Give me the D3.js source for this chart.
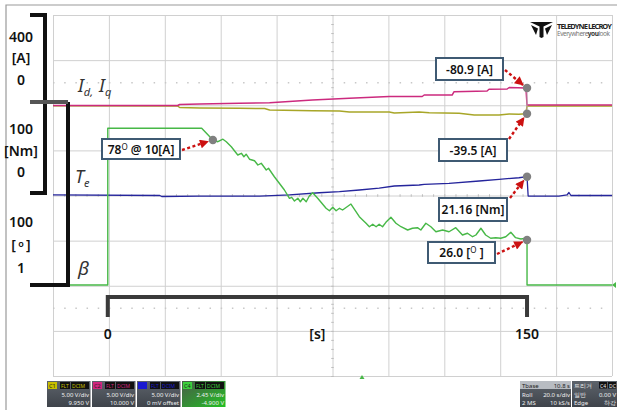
<!DOCTYPE html>
<html>
<head>
<meta charset="utf-8">
<script src="https://d3js.org/d3.v7.min.js"></script>
<style>
  body { margin: 0; background: #fff; }
  svg text { font-family: "Noto Sans", "Open Sans", sans-serif; }
</style>
</head>
<body>
<div id="scope"></div>
<script>
// time [s] for each trace
var idTime = [-19.6, 25, 25.7, 32.9, 47.1, 57.9, 73.2, 86.4, 100.7, 112.5, 113.2, 123.2, 123.9, 135.7, 136.4, 142.9, 143.6, 149.6, 150, 180.4]
var idAmp  = [0, 0, -4.6, -6.9, -10.2, -12.9, -25.4, -33.3, -41.6, -41.6, -48.5, -48.5, -63.8, -67.0, -74.9, -76.3, -83.2, -80.9, -2.4, -2.4]

var iqTime = [-19.6, 25, 25.7, 32.9, 47.1, 56.1, 57.9, 73.2, 82.9, 86.4, 100.7, 102.5, 111.4, 115, 125.7, 131.1, 140, 143.6, 147.1, 149.6, 150, 180.4]
var iqAmp  = [-1.4, -2.4, -9.6, -12.0, -13.5, -14.5, -21.7, -25.0, -26.5, -31.3, -31.3, -36.1, -31.3, -34.7, -37.6, -45.8, -45.8, -40.9, -42.4, -39.5, -2.4, -2.4]

var teTime = [-19.6, 18.6, 19.3, 32.9, 54.3, 65, 75.7, 82.9, 90, 97.1, 102.5, 111.4, 113.2, 122.1, 132.9, 140, 147.1, 150, 150.4, 161.4, 164.3, 165, 165.7, 180.4]
var teNm   = [0.6, 0, -1.1, -0.6, -0.6, 0.6, 3.1, 4.3, 6.2, 8.4, 10.7, 11.8, 12.6, 13.7, 16.3, 18.2, 20.0, 21.16, -0.6, -0.6, 0.6, 3.4, 0, 0]

var betaTime = [-19.6, 0, 0, 33.6, 37.6, 39.4, 41.2, 42.4, 44.2, 46.5, 47.8, 48.7, 49.5, 50.7, 52.5, 53.7, 54.9, 56.7, 57.5, 59.6,
  63.2, 65.0, 65.8, 66.8, 68.0, 68.9, 69.8, 71.0, 72.1, 73.3, 75.1, 78.1, 79.3, 80.5, 81.7, 82.9, 84.0, 87.0, 90.0, 92.4,
  93.6, 94.8, 96.0, 97.1, 98.3, 99.5, 101.3, 103.1, 104.9, 107.3, 109.0, 110.8, 112.0, 113.8, 115.6, 117.4, 119.8, 122.1, 124.5, 126.9,
  128.7, 130.5, 131.7, 133.5, 135.2, 137.0, 138.8, 140.6, 142.4, 144.2, 145.9, 147.8, 149.5, 150, 150, 180.4]
var betaDeg = [2.6, 2.6, 84.2, 84.1, 78.0, 77.1, 78.4, 77.1, 74.5, 70.2, 71.1, 69.3, 70.6, 68.0, 67.2, 65.0, 65.9, 62.4, 63.3, 58.9,
  52.0, 47.7, 48.2, 46.3, 47.7, 45.9, 47.7, 45.9, 48.9, 50.6, 47.7, 42.5, 41.2, 43.0, 41.2, 42.5, 41.6, 44.7, 38.1, 34.7,
  32.9, 34.2, 32.9, 34.2, 32.9, 35.2, 37.8, 34.7, 32.9, 31.2, 32.1, 32.4, 31.2, 34.7, 32.9, 30.3, 31.2, 30.3, 32.4, 28.6,
  29.5, 27.7, 28.6, 32.1, 28.6, 26.9, 27.2, 26.9, 27.7, 30.0, 27.2, 26.5, 26.9, 26.0, 2.6, 2.6]

// left scale labels and time labels
var scaleLabels = [["400", "[A]", "0"], ["100", "[Nm]", "0"], ["100", "[o]", "1"]]
var timeLabels = ["0", "[s]", "150"]
var timeLabelAt = [0, 75, 150]

// marked points: text, series, time, value  (° is drawn as a raised O)
var notes = [
  { text: "-80.9 [A]", series: "id", t: 150, v: -80.9 },
  { text: "-39.5 [A]", series: "iq", t: 150, v: -39.5 },
  { text: "21.16 [Nm]", series: "te", t: 150, v: 21.16 },
  { text: "26.0 [° ]", series: "beta", t: 150, v: 26.0 },
  { text: "78° @ 10[A]", series: "beta", t: 37.6, v: 78 }
]

var W = 617, H = 410
var svg = d3.select("#scope").append("svg").attr("width", W).attr("height", H)

// frame of the screenshot
svg.append("path").attr("d", "M6,410V5H617").attr("fill", "none").attr("stroke", "#9a9a9a").attr("stroke-width", 1.2)

// grid 10 x 8 divisions
var gx = d3.scaleLinear().domain([0, 10]).range([53, 612])
var gy = d3.scaleLinear().domain([0, 8]).range([15, 376])

var grid = svg.append("g")
grid.append("g").attr("transform", "translate(0,376)")
    .call(d3.axisBottom(gx).tickValues(d3.range(11)).tickSize(-361).tickFormat(""))
grid.append("g").attr("transform", "translate(53,0)")
    .call(d3.axisLeft(gy).tickValues(d3.range(9)).tickSize(-559).tickFormat(""))
grid.selectAll(".domain").remove()
grid.selectAll("line").attr("stroke", "#d0d0d0").attr("stroke-width", 1)

// ticks on the centre lines
var cx = svg.append("g").attr("transform", "translate(" + gx(5) + ",0)")
    .call(d3.axisRight(gy).tickValues(d3.range(0, 8.01, 0.2)).tickSize(2.5).tickFormat(""))
cx.call(function (g) { g.selectAll("line").attr("transform", "translate(-1.25,0)") })
var cy = svg.append("g").attr("transform", "translate(0," + gy(4) + ")")
    .call(d3.axisBottom(gx).tickValues(d3.range(0, 10.01, 0.2)).tickSize(2.5).tickFormat(""))
cy.call(function (g) { g.selectAll("line").attr("transform", "translate(0,-1.25)") })
svg.selectAll(".domain").remove()
cx.selectAll("line").attr("stroke", "#bdbdbd")
cy.selectAll("line").attr("stroke", "#bdbdbd")

// dotted rows
;[1.5, 6.5].forEach(function (r) {
    svg.append("line").attr("x1", 53).attr("x2", 612).attr("y1", gy(r)).attr("y2", gy(r))
        .attr("stroke", "#c8c8c8").attr("stroke-width", 1.5).attr("stroke-dasharray", "1.5,9.68")
})

// scales for traces
var x = d3.scaleLinear().domain([-19.6, 180.4]).range([53, 612])
var yId = d3.scaleLinear().domain([0, -80.9]).range([105.5, 88])
var yIq = d3.scaleLinear().domain([0, -39.5]).range([105.5, 113.7])
var yTe = d3.scaleLinear().domain([0, 21.16]).range([195.5, 176.7])
var yBeta = d3.scaleLinear().domain([26, 78]).range([240, 140])
var yOf = { id: yId, iq: yIq, te: yTe, beta: yBeta }

function trace(ts, vs, ys, color, w) {
    var pts = ts.map(function (t, i) { return [t, vs[i]] })
    svg.append("path").datum(pts)
        .attr("d", d3.line().x(function (d) { return x(d[0]) }).y(function (d) { return ys(d[1]) }))
        .attr("fill", "none").attr("stroke", color).attr("stroke-width", w)
        .attr("stroke-linejoin", "round")
}
trace(iqTime, iqAmp, yIq, "#a8a628", 1.5)
trace(idTime, idAmp, yId, "#cc2a7e", 1.5)
trace(teTime, teNm, yTe, "#25259c", 1.3)
trace(betaTime, betaDeg, yBeta, "#47b847", 1.4)

// little markers of the scope
svg.append("path").attr("d", "M612,285l4,-3v6z").attr("fill", "#47b847")
svg.append("path").attr("d", "M362,375l-2.5,4h5z").attr("fill", "#47b847")

// left brackets
var br = svg.append("g").attr("fill", "none").attr("stroke-linecap", "butt")
br.append("path").attr("d", "M30,15H45V193H30").attr("stroke", "#111").attr("stroke-width", 4)
br.append("path").attr("d", "M30,285H68V102").attr("stroke", "#111").attr("stroke-width", 4)
br.append("path").attr("d", "M30,102H68").attr("stroke", "#555").attr("stroke-width", 4)

var labY = [[37, 58, 80], [129, 151, 172], [222, 245, 268]]
scaleLabels.forEach(function (grp, gi) {
    grp.forEach(function (s, i) {
        var t = svg.append("text").attr("x", 21).attr("y", labY[gi][i] + 5)
            .attr("text-anchor", "middle").attr("font-size", 14).attr("font-weight", 600).attr("fill", "#111")
        if (s === "[o]") {
            t.text("[")
            t.append("tspan").attr("font-size", 9).attr("dy", -3).text(" o ")
            t.append("tspan").attr("dy", 3).text("]")
        } else t.text(s)
    })
})

// trace names
var nm = svg.append("g").attr("font-family", "'Liberation Serif', serif")
    .attr("font-style", "italic").attr("fill", "#333")
var idq = nm.append("text").attr("x", 78).attr("y", 92).attr("font-size", 18)
idq.append("tspan").text("I")
idq.append("tspan").attr("font-size", 11).attr("dy", 4).text("d,")
idq.append("tspan").attr("dy", -4).attr("dx", 6).text("I")
idq.append("tspan").attr("font-size", 11).attr("dy", 4).text("q")
var te = nm.append("text").attr("x", 75).attr("y", 183).attr("font-size", 18)
te.append("tspan").text("T")
te.append("tspan").attr("font-size", 11).attr("dy", 4).text("e")
nm.append("text").attr("x", 78).attr("y", 275).attr("font-size", 19).text("β")

// time bracket
svg.append("path").attr("d", "M" + x(0) + ",317V297H" + x(150) + "V317")
    .attr("fill", "none").attr("stroke", "#3a3a3a").attr("stroke-width", 4)
timeLabels.forEach(function (s, i) {
    svg.append("text").attr("x", x(timeLabelAt[i])).attr("y", 339).attr("text-anchor", "middle")
        .attr("font-size", 14).attr("font-weight", 600).attr("fill", "#111").text(s)
})

// annotations
var boxes = [
    { x: 436, y: 58, w: 67, h: 22, ax: 503, ay: 70 },
    { x: 439, y: 139, w: 68, h: 22, ax: 507, ay: 139 },
    { x: 439, y: 198, w: 68, h: 23, ax: 508, ay: 198 },
    { x: 428, y: 242, w: 67, h: 21, ax: 495, ay: 254 },
    { x: 102, y: 139, w: 78, h: 20, ax: 180, ay: 150 }
]
var defs = svg.append("defs")
defs.append("marker").attr("id", "ah").attr("viewBox", "0 0 10 10").attr("refX", 9).attr("refY", 5)
    .attr("markerUnits", "userSpaceOnUse").attr("markerWidth", 10).attr("markerHeight", 9).attr("orient", "auto")
    .append("path").attr("d", "M0,0L10,5L0,10z").attr("fill", "#cc1111")

notes.forEach(function (n, i) {
    var b = boxes[i]
    var px = x(n.t), py = yOf[n.series](n.v)
    var dx = px - b.ax, dy = py - b.ay, L = Math.sqrt(dx * dx + dy * dy)
    svg.append("line").attr("x1", b.ax + 2).attr("y1", b.ay).attr("x2", px - dx / L * 5).attr("y2", py - dy / L * 5)
        .attr("stroke", "#cc1111").attr("stroke-width", 2.4).attr("stroke-dasharray", "3,2.5")
        .attr("marker-end", "url(#ah)")
    svg.append("circle").attr("cx", px).attr("cy", py).attr("r", 4.2).attr("fill", "#808080")
    svg.append("rect").attr("x", b.x).attr("y", b.y).attr("width", b.w).attr("height", b.h)
        .attr("fill", "#fff").attr("stroke", "#3f5a73").attr("stroke-width", 2)
    var t = svg.append("text").attr("x", b.x + b.w / 2).attr("y", b.y + b.h / 2 + 4.5).attr("text-anchor", "middle")
        .attr("font-size", 12).attr("font-weight", 600).attr("fill", "#111")
    var parts = n.text.split("°")
    t.text(parts[0])
    if (parts.length > 1) {
        t.append("tspan").attr("font-size", 8).attr("font-weight", 400).attr("dy", -4).text("O")
        t.append("tspan").attr("dy", 4).text(parts[1])
    }
})
// connecting line at the end of Id/Iq
svg.append("line").attr("x1", x(150)).attr("x2", x(150)).attr("y1", yId(-80.9) + 4).attr("y2", yIq(-39.5) - 4)
    .attr("stroke", "#b9a0b0").attr("stroke-width", 1)

// logo
var logo = svg.append("g").attr("transform", "translate(530,22)")
logo.append("path").attr("d", "M0,0H23L13.5,4.5V15L11.5,16L9.5,15V4.5Z").attr("fill", "#111")
logo.append("path").attr("d", "M1,3L8,6.5L6,13ZM22,3L15,6.5L17,13Z").attr("fill", "#111")
logo.append("text").attr("x", 27).attr("y", 6.5).attr("font-size", 7.5).attr("font-weight", 700)
    .attr("font-family", "'Liberation Sans Narrow', 'Roboto', sans-serif").attr("fill", "#222")
    .attr("textLength", 55).text("TELEDYNE LECROY")
var ew = logo.append("text").attr("x", 27).attr("y", 14).attr("font-size", 6.5).attr("fill", "#777")
    .attr("font-family", "'Roboto', sans-serif").attr("textLength", 53)
ew.append("tspan").text("Everywhere")
ew.append("tspan").attr("font-weight", 700).attr("fill", "#333").text("you")
ew.append("tspan").text("look")

// channel descriptors
var chNames = ["C1", "C2", "C3", "C4"]
var chColors = ["#c8c000", "#d0267e", "#1a1ad0", "#3bd03b"]
var chVdiv = ["5.00 V/div", "5.00 V/div", "5.00 V/div", "2.45 V/div"]
var chOffset = ["9.950 V", "10.000 V", "0 mV offset", "-4.900 V"]
var gradG = defs.append("linearGradient").attr("id", "gg").attr("x1", 0).attr("x2", 1).attr("y1", 0).attr("y2", 1)
gradG.append("stop").attr("offset", "0").attr("stop-color", "#4a5a4a")
gradG.append("stop").attr("offset", "1").attr("stop-color", "#22c022")
var gradD = defs.append("linearGradient").attr("id", "gd").attr("x1", 0).attr("x2", 0).attr("y1", 0).attr("y2", 1)
gradD.append("stop").attr("offset", "0").attr("stop-color", "#5d636b")
gradD.append("stop").attr("offset", "1").attr("stop-color", "#3e434a")
chNames.forEach(function (c, i) {
    var g = svg.append("g").attr("transform", "translate(" + (47 + i * 45) + ",381)")
    g.append("rect").attr("width", 43.5).attr("height", 26).attr("fill", i === 3 ? "url(#gg)" : "url(#gd)")
    g.append("rect").attr("x", 1).attr("y", 1).attr("width", 9).attr("height", 7).attr("fill", chColors[i])
    g.append("text").attr("x", 2).attr("y", 7).attr("font-size", 5.5).attr("fill", "#222").text(i === 2 ? "" : c)
    g.append("rect").attr("x", 13).attr("y", 1).attr("width", 10).attr("height", 7).attr("fill", "#111")
    g.append("rect").attr("x", 24).attr("y", 1).attr("width", 18).attr("height", 7).attr("fill", "#111")
    g.append("text").attr("x", 14).attr("y", 7).attr("font-size", 5).attr("fill", chColors[i]).text("FLT")
    g.append("text").attr("x", 25).attr("y", 7).attr("font-size", 5).attr("fill", chColors[i]).text("DCIM")
    g.append("text").attr("x", 42).attr("y", 16).attr("text-anchor", "end").attr("font-size", 6).attr("fill", "#eee").text(chVdiv[i])
    g.append("text").attr("x", 42).attr("y", 24).attr("text-anchor", "end").attr("font-size", 6).attr("fill", "#eee").text(chOffset[i])
})

// timebase / trigger
var tbLeft = ["Tbase", "Roll", "2 MS"], tbRight = ["10.8 s", "20.0 s/div", "10 kS/s"]
var trLeft = ["트리거", "일반", "Edge"], trRight = ["", "0.00 V", "하강"]
var tb = svg.append("g").attr("transform", "translate(520,381)")
tb.append("rect").attr("width", 51).attr("height", 26).attr("fill", "url(#gd)")
tb.append("rect").attr("width", 51).attr("height", 8).attr("fill", "#b8bcc2")
tb.append("rect").attr("x", 52).attr("width", 45).attr("height", 26).attr("fill", "url(#gd)")
tbLeft.forEach(function (s, i) {
    tb.append("text").attr("x", 2).attr("y", 7 + i * 8.5).attr("font-size", 6).attr("fill", i === 0 ? "#222" : "#eee").text(s)
    tb.append("text").attr("x", 50).attr("y", 7 + i * 8.5).attr("text-anchor", "end").attr("font-size", 6).attr("fill", i === 0 ? "#222" : "#eee").text(tbRight[i])
    tb.append("text").attr("x", 54).attr("y", 7 + i * 8.5).attr("font-size", 6)
        .attr("font-family", "'Noto Sans CJK KR', sans-serif").attr("fill", "#eee").text(trLeft[i])
    tb.append("text").attr("x", 96).attr("y", 7 + i * 8.5).attr("text-anchor", "end").attr("font-size", 6)
        .attr("font-family", "'Noto Sans CJK KR', sans-serif").attr("fill", "#eee").text(trRight[i])
})
tb.append("rect").attr("x", 79).attr("y", 1).attr("width", 8).attr("height", 6.5).attr("fill", "#111")
tb.append("rect").attr("x", 88).attr("y", 1).attr("width", 8).attr("height", 6.5).attr("fill", "#111")
tb.append("text").attr("x", 80).attr("y", 6.5).attr("font-size", 5).attr("fill", "#eee").text("C4")
tb.append("text").attr("x", 89).attr("y", 6.5).attr("font-size", 5).attr("fill", "#eee").text("DC")
</script>
</body>
</html>
